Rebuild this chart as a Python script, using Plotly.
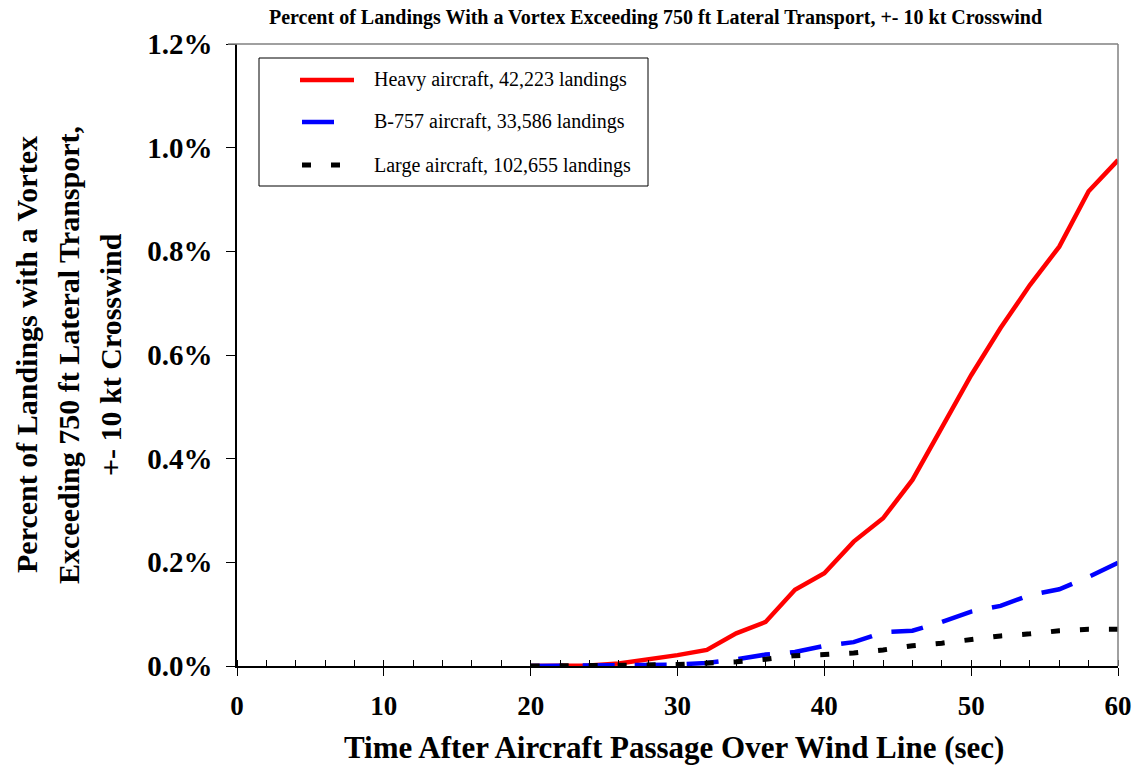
import plotly.graph_objects as go

# Time after passage (sec) and percent of landings for each aircraft class
time_sec = [20, 22, 24, 26, 28, 30, 32, 34, 36, 38, 40, 42, 44, 46, 48, 50, 52, 54, 56, 58, 60]
heavy_pct = [0.000, 0.000, 0.001, 0.005, 0.012, 0.021, 0.031, 0.063, 0.085, 0.147, 0.179,
             0.240, 0.285, 0.359, 0.460, 0.561, 0.652, 0.735, 0.809, 0.916, 0.976]
b757_pct = [0.000, 0.000, 0.000, 0.001, 0.002, 0.003, 0.006, 0.013, 0.022, 0.027, 0.039,
            0.046, 0.065, 0.068, 0.085, 0.105, 0.116, 0.137, 0.148, 0.172, 0.199]
large_pct = [0.000, 0.000, 0.000, 0.001, 0.002, 0.003, 0.005, 0.008, 0.013, 0.020, 0.022,
             0.025, 0.031, 0.039, 0.044, 0.051, 0.058, 0.062, 0.068, 0.071, 0.071]

series_names = ["Heavy aircraft, 42,223 landings",
                "B-757 aircraft, 33,586 landings",
                "Large aircraft, 102,655 landings"]
series_colors = ["#FF0000", "#0000FF", "#000000"]
series_dash = ["solid", "32px,20px", "9px,20px"]
series_width = [4.5, 4.5, 5]

x_ticks = [0, 10, 20, 30, 40, 50, 60]
y_ticks = [0.0, 0.2, 0.4, 0.6, 0.8, 1.0, 1.2]
y_tick_text = ["0.0%", "0.2%", "0.4%", "0.6%", "0.8%", "1.0%", "1.2%"]

W, H = 1138, 765
L, R, T, B = 237, 20, 44, 99
PW, PH = W - L - R, H - T - B
SERIF = "Liberation Serif"


def px(x):
    return (x - L) / PW


def py(y):
    return (H - B - y) / PH


fig = go.Figure()
for vals, name, col, dash, w in zip([heavy_pct, b757_pct, large_pct], series_names,
                                    series_colors, series_dash, series_width):
    fig.add_trace(go.Scatter(x=time_sec, y=vals, mode="lines", name=name,
                             line=dict(color=col, dash=dash, width=w), showlegend=False))

shapes = [
    # frame on the top and right
    dict(type="line", xref="paper", yref="paper", x0=px(228), x1=1, y0=1, y1=1,
         line=dict(color="#808080", width=1.5)),
    dict(type="line", xref="paper", yref="paper", x0=1, x1=1, y0=0, y1=1,
         line=dict(color="#808080", width=1.5)),
    # legend box
    dict(type="rect", xref="paper", yref="paper", x0=px(259), x1=px(648), y0=py(58), y1=py(186),
         line=dict(color="#000000", width=1), fillcolor="white", layer="above"),
]
annotations = []
legend_rows = [80, 122, 165]
sample_span = [(300, 354), (302, 352), (302, 352)]
for name, col, dash, w, ry, (sx0, sx1) in zip(series_names, series_colors, series_dash,
                                              series_width, legend_rows, sample_span):
    shapes.append(dict(type="line", xref="paper", yref="paper", x0=px(sx0), x1=px(sx1),
                       y0=py(ry), y1=py(ry), line=dict(color=col, dash=dash, width=w), layer="above"))
    annotations.append(dict(xref="paper", yref="paper", x=px(372), y=py(ry), text=name,
                            showarrow=False, xanchor="left", yanchor="middle",
                            font=dict(family=SERIF, size=20, color="black")))

annotations.append(dict(xref="paper", yref="paper", x=px(655), y=py(17),
                        text="<b>Percent of Landings With a Vortex Exceeding 750 ft Lateral Transport, +- 10 kt Crosswind</b>",
                        showarrow=False, xanchor="center", yanchor="middle",
                        font=dict(family=SERIF, size=20, color="black")))
annotations.append(dict(xref="paper", yref="paper", x=px(674), y=py(747),
                        text="<b>Time After Aircraft Passage Over Wind Line (sec)</b>",
                        showarrow=False, xanchor="center", yanchor="middle",
                        font=dict(family=SERIF, size=31, color="black")))
for line_text, lx in zip(["Percent of Landings with a Vortex",
                          "Exceeding 750 ft Lateral Transport,",
                          "+- 10 kt Crosswind"], [26, 68, 110]):
    annotations.append(dict(xref="paper", yref="paper", x=px(lx), y=py(355),
                            text="<b>" + line_text + "</b>", textangle=-90,
                            showarrow=False, xanchor="center", yanchor="middle",
                            font=dict(family=SERIF, size=30, color="black")))

fig.update_layout(
    width=W, height=H,
    margin=dict(l=L, r=R, t=T, b=B, autoexpand=False),
    paper_bgcolor="white", plot_bgcolor="white",
    shapes=shapes, annotations=annotations,
    xaxis=dict(range=[0, 60], tickvals=x_ticks, showgrid=False, zeroline=False,
               showline=True, linecolor="black", linewidth=1.5, automargin=False,
               ticks="outside", ticklen=8, tickcolor="black", tickwidth=1.2,
               minor=dict(dtick=2, tick0=0, ticks="inside", ticklen=6, tickcolor="black", tickwidth=1),
               ticklabelstandoff=7,
               tickfont=dict(family=SERIF, size=27, color="black", weight="bold")),
    yaxis=dict(range=[0, 1.2], tickvals=y_ticks, ticktext=y_tick_text, showgrid=False,
               zeroline=False, showline=True, linecolor="black", linewidth=1.5, automargin=False,
               ticks="outside", ticklen=9, tickcolor="black", tickwidth=1.2,
               ticklabelstandoff=8,
               tickfont=dict(family=SERIF, size=29, color="black", weight="bold")),
)

fig.write_html("out.html")
